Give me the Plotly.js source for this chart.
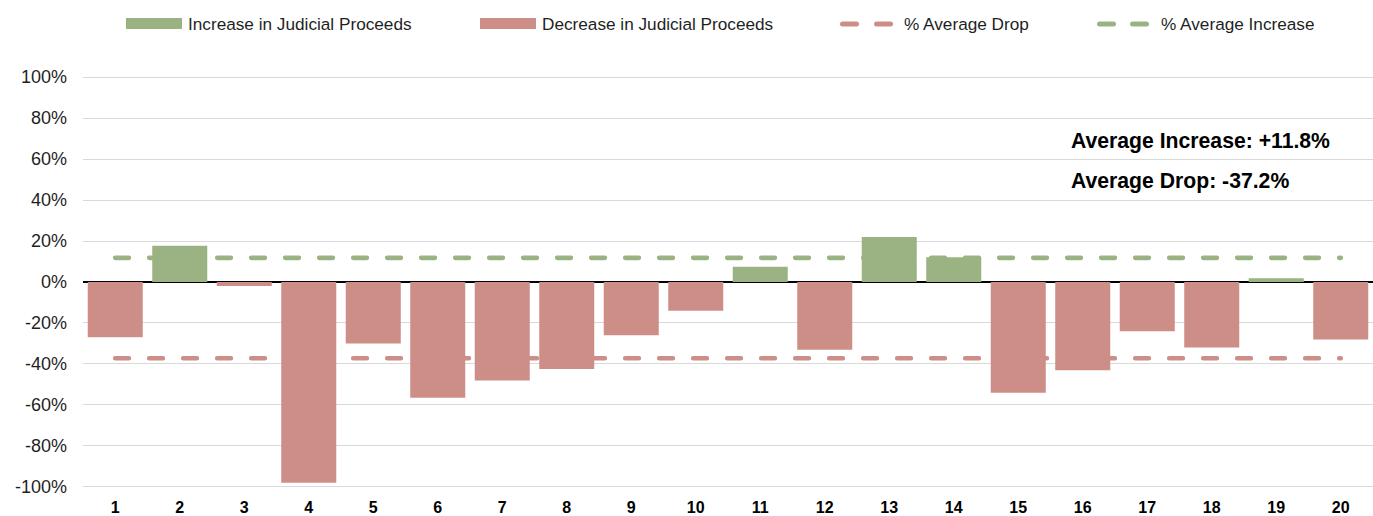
<!DOCTYPE html>
<html>
<head>
<meta charset="utf-8">
<script src="https://cdn.plot.ly/plotly-3.0.1.min.js"></script>
<style>
  html, body { margin: 0; padding: 0; background: #fff; }
  #chart { width: 1373px; height: 516px; }
  .scatterlayer .js-line { stroke-linecap: round; }
  .shapelayer path { stroke-linecap: round; }
</style>
</head>
<body>
<div id="chart"></div>
<script>
// ---- data ----
var categories = ["1","2","3","4","5","6","7","8","9","10","11","12","13","14","15","16","17","18","19","20"];
var increaseValues = [null, 17.7, null, null, null, null, null, null, null, null, 7.5, null, 22.0, 12.1, null, null, null, null, 1.8, null];
var decreaseValues = [-27, null, -2, -98, -30, -56.5, -48, -42.5, -26, -14, null, -33, null, null, -54, -43, -24, -32, null, -28];
var avgIncrease = 11.8;
var avgDrop = -37.2;
var seriesNames = ["Increase in Judicial Proceeds", "Decrease in Judicial Proceeds", "% Average Drop", "% Average Increase"];
var noteTexts = ["Average Increase: +11.8%", "Average Drop: -37.2%"];
var yTickVals = [-100, -80, -60, -40, -20, 0, 20, 40, 60, 80, 100];
var yTickText = yTickVals.map(function (v) { return v + "%"; });

var GREEN = "#9bb383";
var RED = "#ce8e88";
var FONT = "Liberation Sans, Arial, sans-serif";

// plot box in pixels (for placing legend/notes in paper coords)
var L = 83, R = 0, T = 75, B = 27, W = 1373, H = 516;
var PW = W - L - R, PH = H - T - B;
function px(x) { return (x - L) / PW; }
function py(y) { return (H - B - y) / PH; }

var avgIncLine = categories.map(function () { return avgIncrease; });
var avgDropLine = categories.map(function () { return avgDrop; });

var traces = [
  { type: "scatter", mode: "lines", x: categories, y: avgDropLine, name: seriesNames[2],
    line: { color: RED, width: 4.7, dash: "13.6px,20.4px" }, hoverinfo: "skip" },
  { type: "scatter", mode: "lines", x: categories, y: avgIncLine, name: seriesNames[3],
    line: { color: GREEN, width: 4.7, dash: "13.6px,20.4px" }, hoverinfo: "skip" },
  { type: "bar", x: categories, y: increaseValues, name: seriesNames[0], marker: { color: GREEN } },
  { type: "bar", x: categories, y: decreaseValues, name: seriesNames[1], marker: { color: RED } }
];

var shapes = [
  // legend patches
  { type: "rect", xref: "paper", yref: "paper", x0: px(126), x1: px(182), y0: py(29), y1: py(18),
    fillcolor: GREEN, line: { width: 0 } },
  { type: "rect", xref: "paper", yref: "paper", x0: px(480), x1: px(536), y0: py(29), y1: py(18),
    fillcolor: RED, line: { width: 0 } },
  // legend dashes
  { type: "line", xref: "paper", yref: "paper", x0: px(842.5), x1: px(856.5), y0: py(24), y1: py(24),
    line: { color: RED, width: 5 } },
  { type: "line", xref: "paper", yref: "paper", x0: px(876.5), x1: px(890.5), y0: py(24), y1: py(24),
    line: { color: RED, width: 5 } },
  { type: "line", xref: "paper", yref: "paper", x0: px(1099.5), x1: px(1113.5), y0: py(24), y1: py(24),
    line: { color: GREEN, width: 5 } },
  { type: "line", xref: "paper", yref: "paper", x0: px(1132.5), x1: px(1146.5), y0: py(24), y1: py(24),
    line: { color: GREEN, width: 5 } }
];

function legendText(text, x) {
  return { text: text, xref: "paper", yref: "paper", x: px(x), y: py(24.5),
    xanchor: "left", yanchor: "middle", showarrow: false, borderpad: 0,
    font: { family: FONT, size: 17.2, color: "#1f1f1f" } };
}

var annotations = [
  legendText(seriesNames[0], 186.5),
  legendText(seriesNames[1], 540.5),
  legendText(seriesNames[2], 902.5),
  legendText(seriesNames[3], 1159.5),
  { text: "<b>" + noteTexts[0] + "</b>", xref: "paper", yref: "paper", x: px(1070), y: py(140.5),
    xanchor: "left", yanchor: "middle", showarrow: false, borderpad: 0,
    font: { family: FONT, size: 21.2, color: "#000" } },
  { text: "<b>" + noteTexts[1] + "</b>", xref: "paper", yref: "paper", x: px(1070), y: py(180.8),
    xanchor: "left", yanchor: "middle", showarrow: false, borderpad: 0,
    font: { family: FONT, size: 21.2, color: "#000" } }
];

var layout = {
  width: W, height: H,
  margin: { l: L, r: R, t: T, b: B, pad: 0 },
  paper_bgcolor: "#fff", plot_bgcolor: "#fff",
  showlegend: false,
  barmode: "relative",
  bargap: 0.147,
  font: { family: FONT, color: "#1f1f1f" },
  xaxis: {
    type: "category", categoryorder: "array", categoryarray: categories,
    showgrid: false, showline: false, zeroline: false, ticks: "",
    tickfont: { family: FONT, size: 16, color: "#000", weight: "bold" },
    ticklabelstandoff: 7, fixedrange: true
  },
  yaxis: {
    range: [-101, 101], tickvals: yTickVals, ticktext: yTickText,
    showgrid: true, gridcolor: "#d9d9d9", gridwidth: 1,
    zeroline: true, zerolinecolor: "#000", zerolinewidth: 1.6,
    showline: false, ticks: "",
    tickfont: { family: FONT, size: 18, color: "#1f1f1f" },
    ticklabelstandoff: 15, fixedrange: true
  },
  shapes: shapes,
  annotations: annotations
};

Plotly.newPlot("chart", traces, layout, { displayModeBar: false, staticPlot: true });
</script>
</body>
</html>
